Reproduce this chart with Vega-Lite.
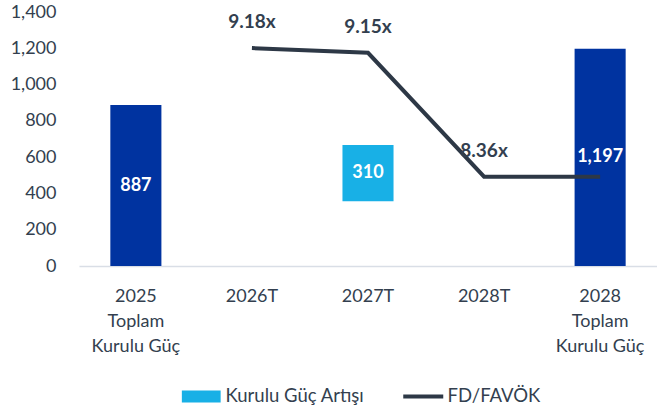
{
  "$schema": "https://vega.github.io/schema/vega-lite/v6.json",
  "width": 578,
  "height": 254,
  "autosize": {"type": "none"},
  "padding": {"left": 79, "top": 12, "right": 0, "bottom": 148},
  "background": "white",
  "config": {
    "view": {"stroke": null},
    "font": "Lato",
    "axis": {"labelFont": "Lato", "labelColor": "#333F4F", "grid": false, "ticks": false}
  },
  "datasets": {
    "bars": [
      {"cat": "2025|Toplam|Kurulu Güç", "kind": "total", "series": "Toplam", "start": 0, "end": 887, "label": "887"},
      {"cat": "2027T", "kind": "increase", "series": "Kurulu Güç Artışı", "start": 357, "end": 667, "label": "310"},
      {"cat": "2028|Toplam|Kurulu Güç", "kind": "total", "series": "Toplam", "start": 0, "end": 1197, "label": "1,197"}
    ],
    "line": [
      {"cat": "2026T", "fd": 9.18, "fdLabel": "9.18x"},
      {"cat": "2027T", "fd": 9.15, "fdLabel": "9.15x"},
      {"cat": "2028T", "fd": 8.36, "fdLabel": "8.36x"},
      {"cat": "2028|Toplam|Kurulu Güç", "fd": 8.36, "fdLabel": ""}
    ]
  },
  "encoding": {
    "x": {
      "field": "cat", "type": "nominal",
      "scale": {"domain": ["2025|Toplam|Kurulu Güç", "2026T", "2027T", "2028T", "2028|Toplam|Kurulu Güç"], "paddingInner": 0.56, "paddingOuter": 0.27},
      "axis": {"title": null, "labelAngle": 0, "labelExpr": "split(datum.value, '|')", "labelFontSize": 18, "labelLineHeight": 25, "labelPadding": 21, "domainColor": "#D9DEE6", "domainWidth": 1.5, "labelBaseline": "top"}
    }
  },
  "layer": [
    {
      "data": {"name": "bars"},
      "mark": {"type": "bar"},
      "encoding": {
        "y": {"field": "start", "type": "quantitative", "scale": {"domain": [0, 1400], "nice": false},
          "axis": {"title": null, "values": [0, 200, 400, 600, 800, 1000, 1200, 1400], "format": ",.0f", "labelFontSize": 18, "labelPadding": 23, "domain": false}},
        "y2": {"field": "end"},
        "color": {
          "condition": {"test": "datum.kind === 'total'", "value": "#0033A0"},
          "field": "series", "type": "nominal",
          "scale": {"domain": ["Kurulu Güç Artışı", "FD/FAVÖK"], "range": ["#18B0E6", "#2D3846"]},
          "legend": {
            "orient": "none", "legendX": 113, "legendY": 375, "direction": "horizontal", "title": null,
            "padding": 0, "labelFont": "Lato", "labelFontSize": 18.5, "labelColor": "#333F4F",
            "symbolSize": 1600, "columnPadding": 30, "labelOffset": 15,
            "encode": {"symbols": {"update": {
              "shape": {"signal": "datum.value === 'FD/FAVÖK' ? 'M-1,0H1' : 'M-0.97,-0.3H0.97V0.3H-0.97Z'"},
              "strokeWidth": {"signal": "datum.value === 'FD/FAVÖK' ? 4 : 0"},
              "stroke": {"signal": "datum.value === 'FD/FAVÖK' ? '#2D3846' : 'transparent'"},
              "fill": {"signal": "datum.value === 'FD/FAVÖK' ? 'transparent' : '#18B0E6'"},
              "opacity": {"value": 1}
            }}}
          }
        }
      }
    },
    {
      "data": {"name": "bars"},
      "transform": [{"fold": ["start", "end"], "as": ["k", "v"]}],
      "mark": {"type": "text", "color": "white", "fontWeight": "bold", "fontSize": 18, "baseline": "middle"},
      "encoding": {
        "y": {"aggregate": "mean", "field": "v", "type": "quantitative", "scale": {"domain": [0, 1400], "nice": false}, "axis": null},
        "text": {"field": "label"}
      }
    },
    {
      "data": {"name": "line"},
      "mark": {"type": "line", "color": "#2D3846", "strokeWidth": 4},
      "encoding": {
        "y": {"field": "fd", "type": "quantitative", "scale": {"domain": [7.79, 9.41], "nice": false, "zero": false}, "axis": null}
      }
    },
    {
      "data": {"name": "line"},
      "mark": {"type": "text", "color": "#333F4F", "fontWeight": "bold", "fontSize": 19, "baseline": "middle", "dy": -26},
      "encoding": {
        "y": {"field": "fd", "type": "quantitative", "scale": {"domain": [7.79, 9.41], "nice": false, "zero": false}, "axis": null},
        "text": {"field": "fdLabel"}
      }
    }
  ],
  "resolve": {"scale": {"y": "independent"}}
}
